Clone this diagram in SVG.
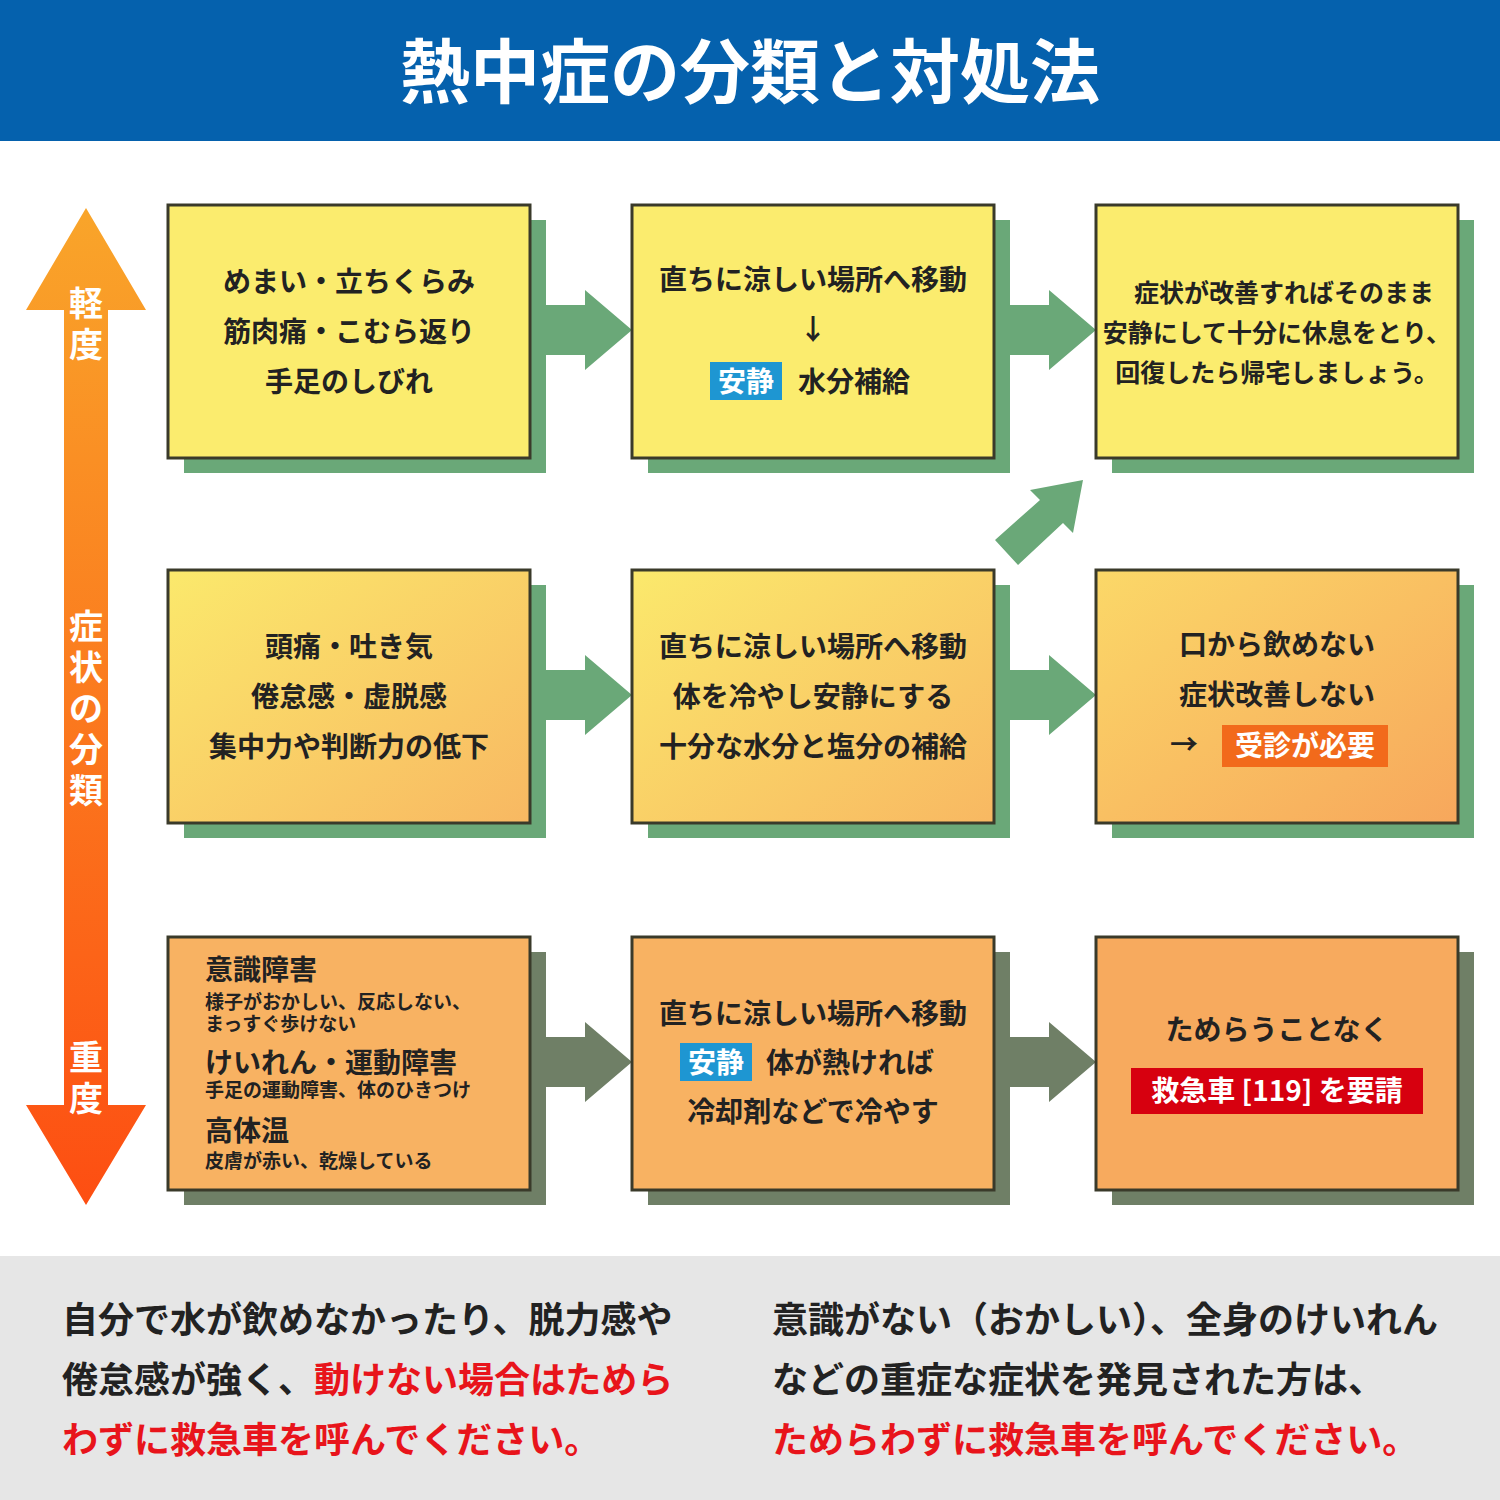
<svg xmlns="http://www.w3.org/2000/svg" width="1500" height="1500" viewBox="0 0 1500 1500">
<defs>
<style>
text{font-family:"Noto Sans CJK JP","Noto Sans",sans-serif;font-weight:bold;fill:#222}
.box{stroke:#3a3a2a;stroke-width:3}
.sh{fill:#6aa878}
.sh3{fill:#6f7f66}
.t{font-size:28px;text-anchor:middle}
.b{font-size:36px}
</style>
<linearGradient id="vg" x1="0" y1="0" x2="0" y2="1"><stop offset="0" stop-color="#f9a52a"/><stop offset="1" stop-color="#fd4e12"/></linearGradient>
<linearGradient id="r2" x1="0" y1="0" x2="1" y2="1"><stop offset="0" stop-color="#fbe96c"/><stop offset="1" stop-color="#f8b862"/></linearGradient>
<linearGradient id="r2b" x1="0" y1="0" x2="1" y2="1"><stop offset="0" stop-color="#fbd868"/><stop offset="1" stop-color="#f7a75c"/></linearGradient>
</defs>
<rect width="1500" height="1500" fill="#fff"/>
<rect width="1500" height="141" fill="#0561ad"/>
<text x="750" y="98" font-size="70" text-anchor="middle" style="fill:#fff">熱中症の分類と対処法</text>

<g id="scale">
<polygon points="86,208 146,310 108,310 108,1105 146,1105 86,1205 26,1105 64,1105 64,310 26,310" fill="url(#vg)"/>
<g font-size="34" text-anchor="middle">
<text x="86" y="316" style="fill:#fff">軽</text><text x="86" y="357" style="fill:#fff">度</text>
<text x="86" y="639" style="fill:#fff">症</text><text x="86" y="680" style="fill:#fff">状</text><text x="86" y="721" style="fill:#fff">の</text><text x="86" y="762" style="fill:#fff">分</text><text x="86" y="803" style="fill:#fff">類</text>
<text x="86" y="1070" style="fill:#fff">重</text><text x="86" y="1111" style="fill:#fff">度</text>
</g>
</g>

<g id="connectors">
<polygon class="sh" points="543,305 585,305 585,290 632,330 585,370 585,355 543,355"/>
<polygon class="sh" points="1007,305 1049,305 1049,290 1096,330 1049,370 1049,355 1007,355"/>
<polygon class="sh" points="543,670 585,670 585,655 632,695 585,735 585,720 543,720"/>
<polygon class="sh" points="1007,670 1049,670 1049,655 1096,695 1049,735 1049,720 1007,720"/>
<polygon class="sh3" points="543,1037 585,1037 585,1022 632,1062 585,1102 585,1087 543,1087"/>
<polygon class="sh3" points="1007,1037 1049,1037 1049,1022 1096,1062 1049,1102 1049,1087 1007,1087"/>
<polygon class="sh" points="995,540 1040,500 1030,490 1083,480 1073,533 1063,523 1018,565"/>
</g>

<g id="n1"><rect class="sh" x="184" y="220" width="362" height="253"/><rect class="box" x="168" y="205" width="362" height="253" fill="#fbec6e"/>
<text class="t" x="349" y="292">めまい・立ちくらみ</text><text class="t" x="349" y="342">筋肉痛・こむら返り</text><text class="t" x="349" y="392">手足のしびれ</text></g>
<g id="n2"><rect class="sh" x="648" y="220" width="362" height="253"/><rect class="box" x="632" y="205" width="362" height="253" fill="#fbec6e"/>
<text class="t" x="813" y="290">直ちに涼しい場所へ移動</text><text class="t" x="813" y="340">↓</text>
<rect x="710" y="362" width="72" height="38" fill="#1e96d2"/><text x="746" y="392" font-size="28" text-anchor="middle" style="fill:#fff">安静</text>
<text x="798" y="392" font-size="28">水分補給</text></g>
<g id="n3"><rect class="sh" x="1112" y="220" width="362" height="253"/><rect class="box" x="1096" y="205" width="362" height="253" fill="#fbec6e"/>
<text class="t" style="font-size:25px" x="1284" y="302">症状が改善すればそのまま</text><text class="t" style="font-size:25px" x="1277" y="342">安静にして十分に休息をとり、</text><text class="t" style="font-size:25px" x="1277" y="382">回復したら帰宅しましょう。</text></g>

<g id="n4"><rect class="sh" x="184" y="585" width="362" height="253"/><rect class="box" x="168" y="570" width="362" height="253" fill="url(#r2)"/>
<text class="t" x="349" y="657">頭痛・吐き気</text><text class="t" x="349" y="707">倦怠感・虚脱感</text><text class="t" x="349" y="757">集中力や判断力の低下</text></g>
<g id="n5"><rect class="sh" x="648" y="585" width="362" height="253"/><rect class="box" x="632" y="570" width="362" height="253" fill="url(#r2)"/>
<text class="t" x="813" y="657">直ちに涼しい場所へ移動</text><text class="t" x="813" y="707">体を冷やし安静にする</text><text class="t" x="813" y="757">十分な水分と塩分の補給</text></g>
<g id="n6"><rect class="sh" x="1112" y="585" width="362" height="253"/><rect class="box" x="1096" y="570" width="362" height="253" fill="url(#r2b)"/>
<text class="t" x="1277" y="655">口から飲めない</text><text class="t" x="1277" y="705">症状改善しない</text>
<text x="1170" y="755" font-size="28">→</text>
<rect x="1222" y="725" width="166" height="42" fill="#f26a1b"/><text x="1305" y="756" font-size="28" text-anchor="middle" style="fill:#fff">受診が必要</text></g>

<g id="n7"><rect class="sh3" x="184" y="952" width="362" height="253"/><rect class="box" x="168" y="937" width="362" height="253" fill="#f8b262"/>
<text x="205" y="980" font-size="28">意識障害</text>
<text x="205" y="1009" font-size="19">様子がおかしい、反応しない、</text>
<text x="205" y="1031" font-size="19">まっすぐ歩けない</text>
<text x="205" y="1073" font-size="28">けいれん・運動障害</text>
<text x="205" y="1097" font-size="19">手足の運動障害、体のひきつけ</text>
<text x="205" y="1141" font-size="28">高体温</text>
<text x="205" y="1168" font-size="19">皮膚が赤い、乾燥している</text></g>
<g id="n8"><rect class="sh3" x="648" y="952" width="362" height="253"/><rect class="box" x="632" y="937" width="362" height="253" fill="#f8b262"/>
<text class="t" x="813" y="1024">直ちに涼しい場所へ移動</text>
<rect x="680" y="1043" width="72" height="38" fill="#1e96d2"/><text x="716" y="1073" font-size="28" text-anchor="middle" style="fill:#fff">安静</text>
<text x="766" y="1073" font-size="28">体が熱ければ</text>
<text class="t" x="813" y="1122">冷却剤などで冷やす</text></g>
<g id="n9"><rect class="sh3" x="1112" y="952" width="362" height="253"/><rect class="box" x="1096" y="937" width="362" height="253" fill="#f7aa5e"/>
<text class="t" x="1277" y="1040">ためらうことなく</text>
<rect x="1131" y="1068" width="292" height="46" fill="#d7000f"/><text x="1277" y="1101" font-size="28" text-anchor="middle" style="fill:#fff">救急車 [119] を要請</text></g>

<g id="footer">
<rect x="0" y="1256" width="1500" height="244" fill="#e6e6e6"/>
<text class="b" x="62" y="1333">自分で水が飲めなかったり、脱力感や</text>
<text class="b" x="62" y="1393">倦怠感が強く、<tspan style="fill:#e8141b">動けない場合はためら</tspan></text>
<text class="b" x="62" y="1453" style="fill:#e8141b">わずに救急車を呼んでください。</text>
<text class="b" x="772" y="1333">意識がない（おかしい）、全身のけいれん</text>
<text class="b" x="772" y="1393">などの重症な症状を発見された方は、</text>
<text class="b" x="772" y="1453" style="fill:#e8141b">ためらわずに救急車を呼んでください。</text>
</g>
</svg>
